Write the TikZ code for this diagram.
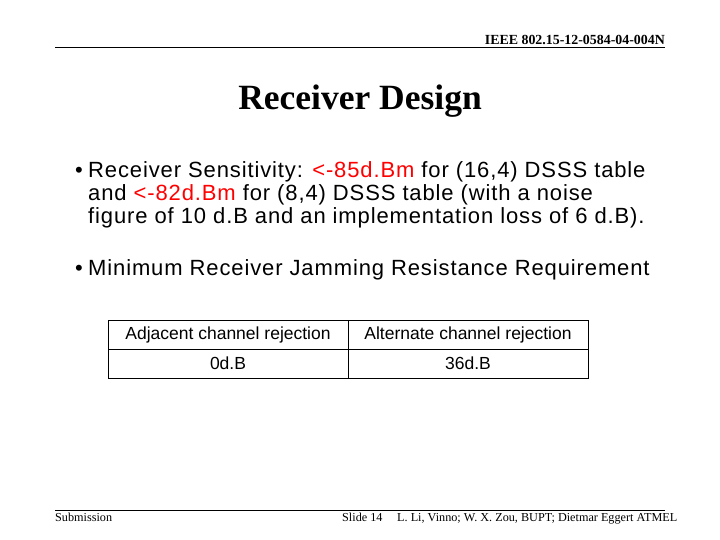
\documentclass[tikz,border=0pt]{standalone}
\usepackage{fontspec}
\setmainfont{Liberation Serif}
\newfontfamily\arial{Liberation Sans}
\newfontfamily\arialsp[LetterSpace=4]{Liberation Sans}
\begin{document}
\begin{tikzpicture}[x=1pt,y=-1pt,
  bul/.style={anchor=base west,inner sep=0,font=\arialsp\fontsize{22}{26}\selectfont},
  cell/.style={draw,thick,minimum width=240,minimum height=29,inner sep=0,font=\arial\fontsize{17.5}{20}\selectfont},
  foot/.style={inner sep=0,anchor=base west,font=\fontsize{12.2}{14}\selectfont}]
\useasboundingbox (0,0) rectangle (720,540);
\node[inner sep=0,anchor=base east,font=\bfseries\fontsize{13.9}{16}\selectfont] (hdr) at (665,45) {IEEE 802.15-12-0584-04-004N};
\draw[thick] (55,47) -- (665,47);
\node[inner sep=0,anchor=base,font=\bfseries\fontsize{35.5}{40}\selectfont] (title) at (360,110) {Receiver Design};
\node[bul] (b1) at (75,178) {•};
\node[bul] (l1) at (88,178) {Receiver Sensitivity: \textcolor{red}{<-85d.Bm} for (16,4) DSSS table};
\node[bul] (l2) at (88,201) {and \textcolor{red}{<-82d.Bm} for (8,4) DSSS table (with a noise};
\node[bul] (l3) at (88,224) {figure of 10 d.B and an implementation loss of 6 d.B).};
\node[bul] (b2) at (75,275) {•};
\node[bul] (l4) at (88,275) {Minimum Receiver Jamming Resistance Requirement};
\node[cell] (c11) at (228,334.5) {Adjacent channel rejection};
\node[cell] (c12) at (468,334.5) {Alternate channel rejection};
\node[cell] (c21) at (228,363.5) {0d.B};
\node[cell] (c22) at (468,363.5) {36d.B};
\draw[thick] (55,510) -- (665,510);
\node[foot] (sub) at (55,521) {Submission};
\node[foot] (sl) at (342,521) {Slide 14};
\node[foot] (au) at (397,521) {L. Li, Vinno; W. X. Zou, BUPT; Dietmar Eggert ATMEL};
\end{tikzpicture}
\end{document}
